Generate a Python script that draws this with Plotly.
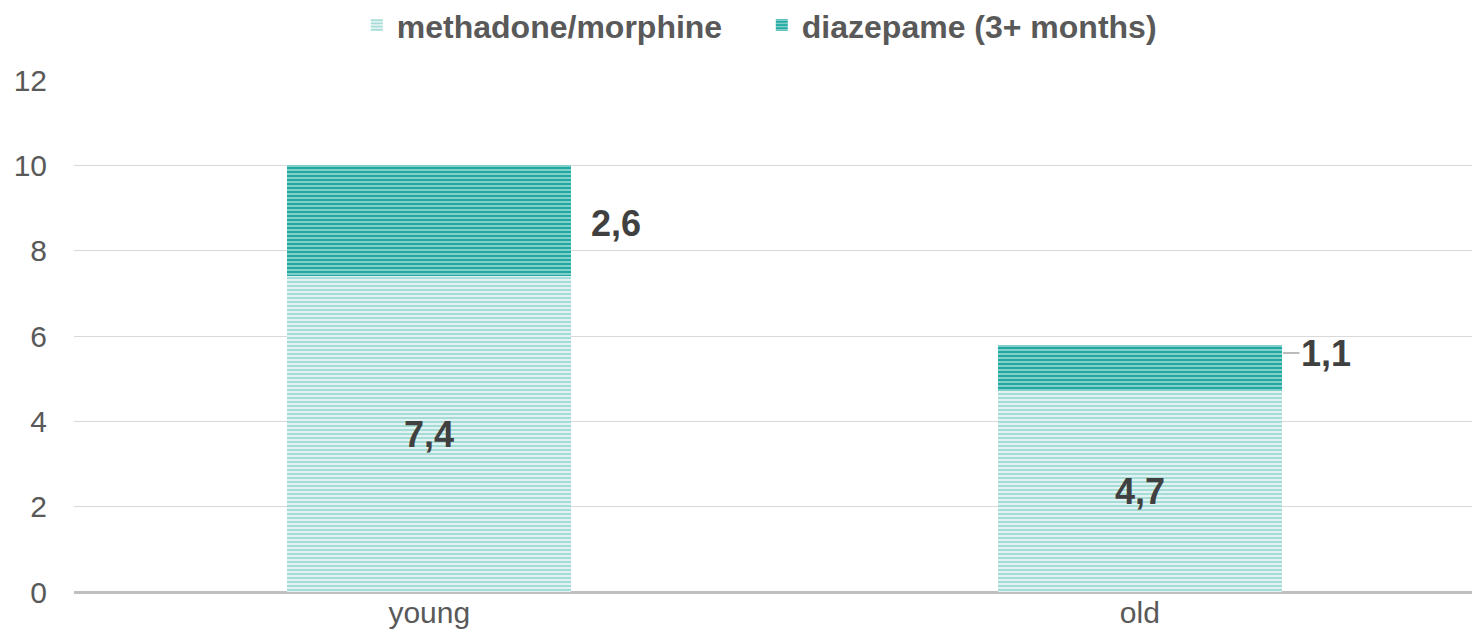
import plotly.graph_objects as go

categories = ["young", "old"]
methadone = [7.4, 4.7]
diazepame = [2.6, 1.1]
series_names = ["methadone/morphine", "diazepame (3+ months)"]
y_ticks = [0, 2, 4, 6, 8, 10, 12]

def fmt(v):
    return f"{v:.1f}".replace(".", ",")

LIGHT = "#A6DCD7"
DARK = "#1FA9A2"
TXT = "#595959"
LBL = "#404040"
FONT = "Liberation Sans, Arial"

xpos = list(range(len(categories)))
BW = 0.4

fig = go.Figure()
fig.add_trace(go.Bar(
    x=xpos, y=methadone, name=f"<b>{series_names[0]}</b>", width=BW,
    marker=dict(color="white", line=dict(width=0),
                pattern=dict(shape="-", fgcolor=LIGHT, bgcolor="#E8F5F4", size=4, solidity=0.55, fillmode="replace")),
))
fig.add_trace(go.Bar(
    x=xpos, y=diazepame, name=f"<b>{series_names[1]}</b>", width=BW,
    marker=dict(color=DARK, line=dict(width=0),
                pattern=dict(shape="-", fgcolor="#9ED8D3", bgcolor=DARK, size=4, solidity=0.4, fillmode="replace")),
))

lblfont = dict(size=36, color=LBL, family=FONT)
for i, v in enumerate(methadone):
    fig.add_annotation(x=xpos[i], y=v / 2, text=f"<b>{fmt(v)}</b>", showarrow=False, font=lblfont)

fig.add_annotation(x=xpos[0] + BW / 2, y=methadone[0] + diazepame[0] / 2, text=f"<b>{fmt(diazepame[0])}</b>",
                   showarrow=False, xanchor="left", xshift=18, yshift=-3, font=lblfont)
fig.add_annotation(x=xpos[1] + BW / 2, y=methadone[1] + diazepame[1] / 2 + 0.35, text=f"<b>{fmt(diazepame[1])}</b>",
                   showarrow=True, arrowhead=0, arrowcolor="#A6A6A6", arrowwidth=1.5,
                   ax=44, ay=0, standoff=1, font=lblfont)

fig.update_layout(
    width=1480, height=644,
    barmode="stack",
    paper_bgcolor="white", plot_bgcolor="white",
    margin=dict(l=66, r=0, t=72, b=60, autoexpand=False),
    font=dict(family=FONT, size=30, color=TXT),
    legend=dict(orientation="h", x=0.2, xanchor="left", y=1.107, yanchor="middle",
                font=dict(size=32, color=TXT, family=FONT), entrywidth=360, entrywidthmode="pixels",
                traceorder="normal"),
    showlegend=True,
    xaxis=dict(range=[-0.5, 1.49], tickmode="array", tickvals=xpos, ticktext=categories,
               showgrid=False, zeroline=False, showline=False, ticks="",
               tickfont=dict(size=30, color=TXT)),
    yaxis=dict(range=[0, 12], tickmode="array", tickvals=y_ticks,
               showgrid=True, gridcolor="#D9D9D9", gridwidth=1,
               zeroline=True, zerolinecolor="#BFBFBF", zerolinewidth=3,
               showline=False, ticks="", ticklabelstandoff=26,
               tickfont=dict(size=30, color=TXT)),
)
fig.write_html("out.html")
